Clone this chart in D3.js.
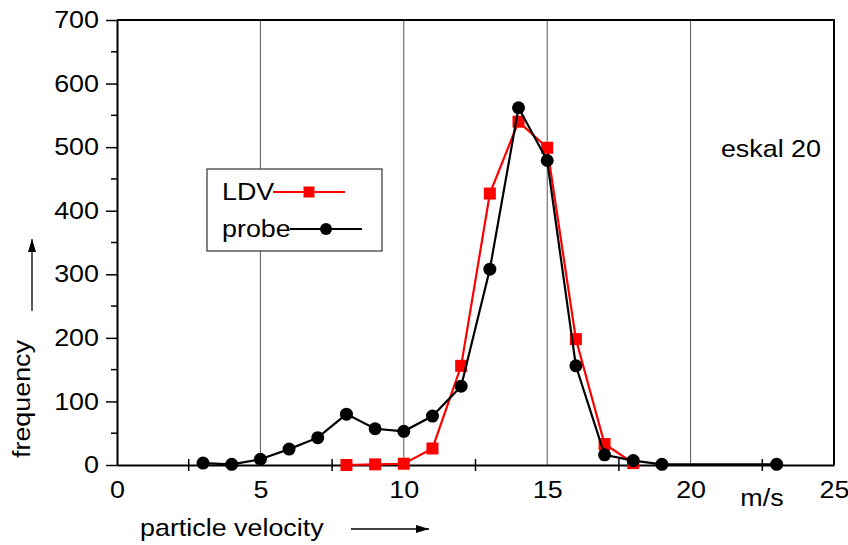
<!DOCTYPE html>
<html><head><meta charset="utf-8">
<script src="https://cdn.jsdelivr.net/npm/d3@7"></script>
<style>body{margin:0;background:#fff}svg{display:block;font-family:"Liberation Sans",Arial,sans-serif}</style>
</head><body><svg id="c" width="848" height="545"></svg>
<script>
const probeX = [3,4,5,6,7,8,9,10,11,12,13,14,15,16,17,18,19,23];
const probeY = [3,1,9,25,43,80,57,53,77,124,308,562,479,156,16,7,1,1];
const ldvX = [8,9,10,11,12,13,14,15,16,17,18];
const ldvY = [0,1,2,26,156,427,540,499,198,33,3];
const xTicks = [0,5,10,15,20,25];
const xMinor = [2.5,7.5,12.5,17.5,22.5];
const yTicks = [0,100,200,300,400,500,600,700];
const yMinor = [50,150,250,350,450,550,650];
const gridX = [5,10,15,20];

const FS = 24, SX = 1.12;
const svg = d3.select("#c");
const L=117,R=834,T=20,B=465;
const x = d3.scaleLinear().domain([0,25]).range([L,R]);
const y = d3.scaleLinear().domain([0,700]).range([B,T]);

function txt(str, tx, ty, anchor, rot){
  return svg.append("text").attr("font-size",FS).attr("text-anchor",anchor||"start").attr("fill","#000")
    .attr("transform",`translate(${tx},${ty}) rotate(${rot||0}) scale(${SX},1)`).text(str);
}

// grid
svg.append("g").selectAll("line").data(gridX).join("line")
  .attr("x1",d=>x(d)).attr("x2",d=>x(d)).attr("y1",T).attr("y2",B)
  .attr("stroke","#555").attr("stroke-width",1);

// frame top/right
svg.append("path").attr("d",`M${L},${T}H${R}V${B}`).attr("fill","none").attr("stroke","#000").attr("stroke-width",2);

// y axis
const yAx = svg.append("g").attr("transform",`translate(${L},0)`)
  .call(d3.axisLeft(y).tickValues(yTicks).tickSize(11).tickSizeOuter(0).tickPadding(6).tickFormat(d3.format("d")));
yAx.select(".domain").attr("stroke-width",2);
yAx.selectAll(".tick line").attr("stroke-width",1.5);
yAx.selectAll("text").attr("font-size",FS).attr("font-family","Liberation Sans, Arial, sans-serif").attr("fill","#000")
  .attr("x",0).attr("transform",`translate(-18,0) scale(${SX},1)`);
svg.append("g").selectAll("line").data(yMinor).join("line")
  .attr("x1",L-6).attr("x2",L).attr("y1",d=>y(d)).attr("y2",d=>y(d)).attr("stroke","#000").attr("stroke-width",1.5);

// x axis
const xAx = svg.append("g").attr("transform",`translate(0,${B})`)
  .call(d3.axisBottom(x).tickValues(xTicks).tickSize(0).tickSizeOuter(0).tickPadding(12).tickFormat(d3.format("d")));
xAx.select(".domain").attr("stroke-width",2);
xAx.selectAll("text").attr("font-size",FS).attr("font-family","Liberation Sans, Arial, sans-serif").attr("fill","#000")
  .attr("y",0).attr("dy",0).attr("transform",`translate(0,33) scale(${SX},1)`);
svg.append("g").selectAll("line").data(xMinor).join("line")
  .attr("x1",d=>x(d)).attr("x2",d=>x(d)).attr("y1",B-6).attr("y2",B+6).attr("stroke","#000").attr("stroke-width",1.5);

const line = d3.line().x(d=>x(d[0])).y(d=>y(d[1]));
const ldv = ldvX.map((v,i)=>[v,ldvY[i]]);
const probe = probeX.map((v,i)=>[v,probeY[i]]);

svg.append("path").datum(ldv).attr("d",line).attr("fill","none").attr("stroke","#f00").attr("stroke-width",2.2);
svg.append("g").selectAll("rect").data(ldv).join("rect")
  .attr("x",d=>x(d[0])-6).attr("y",d=>y(d[1])-6).attr("width",12).attr("height",12).attr("fill","#f00");
svg.append("path").datum(probe).attr("d",line).attr("fill","none").attr("stroke","#000").attr("stroke-width",2.2);
svg.append("g").selectAll("circle").data(probe).join("circle")
  .attr("cx",d=>x(d[0])).attr("cy",d=>y(d[1])).attr("r",6.5).attr("fill","#000");

// legend
svg.append("rect").attr("x",207).attr("y",169).attr("width",175).attr("height",82).attr("fill","#fff").attr("stroke","#333").attr("stroke-width",1.2);
svg.append("line").attr("x1",273).attr("x2",345).attr("y1",192).attr("y2",192).attr("stroke","#f00").attr("stroke-width",2);
svg.append("rect").attr("x",303.5).attr("y",186.5).attr("width",11).attr("height",11).attr("fill","#f00");
svg.append("line").attr("x1",290).attr("x2",362).attr("y1",229).attr("y2",229).attr("stroke","#000").attr("stroke-width",2);
svg.append("circle").attr("cx",326).attr("cy",229).attr("r",6).attr("fill","#000");
txt("LDV",222,200);
txt("probe",222,237);

// annotations
txt("eskal 20",821,157,"end");
txt("m/s",762,506,"middle");
txt("particle velocity",140,536);
txt("frequency",30,458,"start",-90);

const defs = svg.append("defs");
defs.append("marker").attr("id","ah").attr("viewBox","0 0 13 8").attr("refX",13).attr("refY",4)
  .attr("markerWidth",13).attr("markerHeight",8).attr("markerUnits","userSpaceOnUse").attr("orient","auto")
  .append("path").attr("d","M0,0L13,4L0,8Z").attr("fill","#000");
svg.append("line").attr("x1",351).attr("x2",429).attr("y1",529).attr("y2",529).attr("stroke","#000").attr("stroke-width",1.3).attr("marker-end","url(#ah)");
svg.append("line").attr("x1",32).attr("x2",32).attr("y1",311).attr("y2",239).attr("stroke","#000").attr("stroke-width",1.3).attr("marker-end","url(#ah)");
</script></body></html>
